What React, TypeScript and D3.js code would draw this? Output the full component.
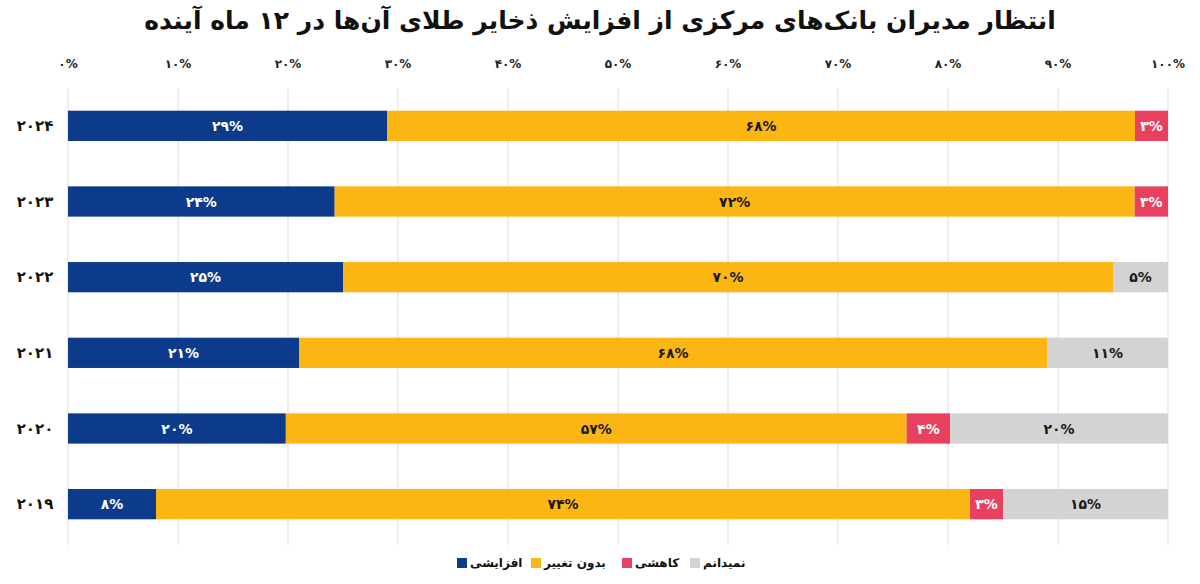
import React from "react";
import * as d3 from "d3";

const years = ["۲۰۲۴", "۲۰۲۳", "۲۰۲۲", "۲۰۲۱", "۲۰۲۰", "۲۰۱۹"];
const increase = [29, 24, 25, 21, 20, 8];
const noChange = [68, 72, 70, 68, 57, 74];
const decrease = [3, 3, 0, 0, 4, 3];
const dontKnow = [0, 0, 5, 11, 20, 15];
const seriesNames = ["افزایشی", "بدون تغییر", "کاهشی", "نمیدانم"];
const seriesKeys = ["inc", "same", "dec", "dk"];
const seriesColors = ["#0d3b8b", "#fbb614", "#e8405f", "#d3d3d3"];
const labelColors = ["#ffffff", "#1a1a1a", "#ffffff", "#1a1a1a"];
const tickValues = [0, 0.1, 0.2, 0.3, 0.4, 0.5, 0.6, 0.7, 0.8, 0.9, 1];
const title = "انتظار مدیران بانک‌های مرکزی از افزایش ذخایر طلای آن‌ها در ۱۲ ماه آینده";

const fa = (n: number) => String(n).replace(/\d/g, (d) => "۰۱۲۳۴۵۶۷۸۹"[+d]);

const W = 1200, H = 584;
const FONT = "'DejaVu Sans', sans-serif";

export default function App() {
  const rows = years.map((y, i) => ({
    year: y,
    inc: increase[i],
    same: noChange[i],
    dec: decrease[i],
    dk: dontKnow[i],
  }));
  const stack = d3.stack<any>().keys(seriesKeys).offset(d3.stackOffsetExpand);
  const layers = stack(rows);
  const x = d3.scaleLinear().domain([0, 1]).range([68, 1168]);
  const y = d3.scaleBand().domain(years).range([88, 542]).paddingInner(0.6).paddingOuter(0.3);
  const bh = y.bandwidth();

  const legendX = [457, 531, 622, 690];

  return (
    <svg width={W} height={H} style={{ position: "absolute", left: 0, top: 0, background: "#fff" }}>
      <text x={600} y={29} textAnchor="middle" fontFamily={FONT} fontWeight="bold" fontSize={25} fill="#111" direction="rtl">
        {title}
      </text>
      {tickValues.map((t) => (
        <g key={t}>
          <line x1={x(t)} x2={x(t)} y1={88} y2={545} stroke="#dcdcdc" strokeWidth={1} />
          <text x={x(t)} y={68} textAnchor="middle" fontFamily={FONT} fontWeight="bold" fontSize={12} fill="#222">
            {fa(Math.round(t * 100)) + "%"}
          </text>
        </g>
      ))}
      {layers.map((layer, si) => (
        <g key={seriesKeys[si]}>
          {layer.map((d, i) => {
            const w = x(d[1]) - x(d[0]);
            if (w <= 0) return null;
            const raw = (rows[i] as any)[seriesKeys[si]];
            return (
              <g key={i}>
                <rect x={x(d[0])} y={y(rows[i].year)!} width={w} height={bh} fill={seriesColors[si]} />
                <text
                  x={(x(d[0]) + x(d[1])) / 2}
                  y={y(rows[i].year)! + bh / 2 + 5}
                  textAnchor="middle"
                  fontFamily={FONT}
                  fontWeight="bold"
                  fontSize={14}
                  fill={labelColors[si]}
                >
                  {fa(raw) + "%"}
                </text>
              </g>
            );
          })}
        </g>
      ))}
      {years.map((yr) => (
        <text key={yr} x={35} y={y(yr)! + bh / 2 + 5} textAnchor="middle" fontFamily={FONT} fontWeight="bold" fontSize={15} fill="#111">
          {yr}
        </text>
      ))}
      {seriesNames.map((n, i) => (
        <g key={n}>
          <rect x={legendX[i]} y={558} width={10} height={10} fill={seriesColors[i]} />
          <text x={legendX[i] + 13} y={567} fontFamily={FONT} fontWeight="bold" fontSize={12} fill="#111">
            {n}
          </text>
        </g>
      ))}
    </svg>
  );
}
